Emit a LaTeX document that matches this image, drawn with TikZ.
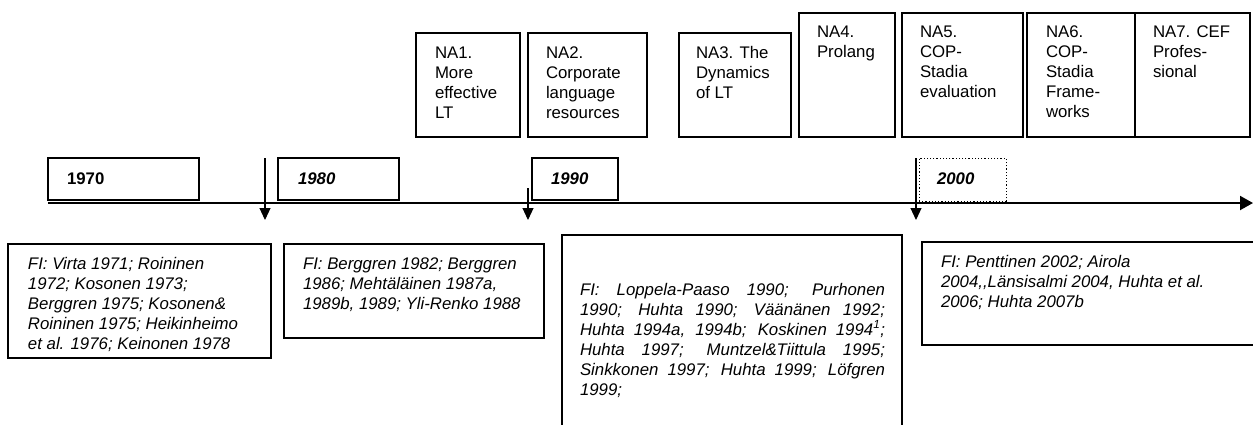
\documentclass[tikz,border=0pt]{standalone}
\usepackage{fontspec}
\setmainfont{Liberation Sans}
\usetikzlibrary{arrows.meta}

% Fixed-size box body: width, height, text inset, first baseline, text
\newcommand{\panelbody}[5]{%
  \vbox to #2pt{\kern\dimexpr#4pt-14pt\relax
    \hbox to #1pt{\kern#3pt\vtop{\hsize=\dimexpr#1pt-#3pt\relax
      \parindent=0pt \parskip=0pt \baselineskip=20pt \raggedright
      \hyphenpenalty=10000
      \rule{0pt}{14pt}#5}\hss}\vss}}

\tikzset{
  frame/.style={draw, line width=1.2pt, inner sep=0pt, outer sep=0pt, anchor=north west},
  dotframe/.style={frame, dotted, line width=1pt},
  pointer/.style={line width=1.1pt, -{Triangle[width=11pt,length=12pt]}},
  axis/.style={line width=2pt, -{Triangle[width=14pt,length=13pt]}},
}

\begin{document}
\begin{tikzpicture}[x=1pt, y=-1pt, font=\fontsize{16.8pt}{20pt}\selectfont]
\useasboundingbox (0,0) rectangle (1253,424);

% research projects
\node[frame] (na1) at (416,33) {\panelbody{104}{104}{19}{25}{NA1.\\More\\effective\\LT}};
\node[frame] (na2) at (528,33) {\panelbody{119}{104}{18}{25}{NA2.\\Corporate\\language\\resources}};
\node[frame] (na3) at (679,33) {\panelbody{112}{104}{17}{25}{NA3. The\\Dynamics\\of LT}};
\node[frame] (na4) at (799,13) {\panelbody{96}{124}{18}{24}{NA4.\\Prolang}};
\node[frame] (na5) at (902,13) {\panelbody{121}{124}{18}{24}{NA5.\\COP-\\Stadia\\evaluation}};
\node[frame] (na6) at (1027,13) {\panelbody{108}{124}{19}{24}{NA6.\\COP-\\Stadia\\Frame-\\works}};
\node[frame] (na7) at (1135,13) {\panelbody{115}{124}{18}{24}{NA7. CEF\\Profes-\\sional}};

% decades
\node[frame] (y1970) at (48,158) {\panelbody{151}{42}{19}{26}{\bfseries 1970}};
\node[frame] (y1980) at (278,158) {\panelbody{121}{42}{20}{26}{\bfseries\itshape 1980}};
\node[frame] (y1990) at (532,158) {\panelbody{86}{42}{19}{26}{\bfseries\itshape 1990}};
\node[dotframe] (y2000) at (919,158) {\panelbody{87}{43}{18}{26}{\bfseries\itshape 2000}};

% time axis
\coordinate (t0) at (48,203);
\coordinate (t1) at (1253,203);
\draw[axis] (t0) -- (t1);

% decade markers
\coordinate (p1a) at (265,158); \coordinate (p1b) at (265,220);
\coordinate (p2a) at (528,188); \coordinate (p2b) at (528,220);
\coordinate (p3a) at (916,158); \coordinate (p3b) at (916,220);
\draw[pointer] (p1a) -- (p1b);
\draw[pointer] (p2a) -- (p2b);
\draw[pointer] (p3a) -- (p3b);

% publications per decade
\node[frame] (r70) at (8,244) {\panelbody{263}{114}{20}{25}{\itshape
  FI: Virta 1971; Roininen\\1972; Kosonen 1973;\\Berggren 1975; Kosonen\&\\Roininen 1975; Heikinheimo\\et al. 1976; Keinonen 1978}};
\node[frame] (r80) at (284,244) {\panelbody{260}{94}{19}{25}{\itshape
  FI: Berggren 1982; Berggren\\1986; Mehtäläinen 1987a,\\1989b, 1989; Yli-Renko 1988}};
\node[frame] (r90) at (562,235) {\panelbody{340}{200}{18}{60}{\itshape
  \makebox[305pt][s]{FI: Loppela-Paaso 1990; Purhonen}\\
  \makebox[305pt][s]{1990; Huhta 1990; Väänänen 1992;}\\
  \makebox[305pt][s]{Huhta 1994a, 1994b; Koskinen 1994\textsuperscript{1};}\\
  \makebox[305pt][s]{Huhta 1997; Muntzel\&Tiittula 1995;}\\
  \makebox[305pt][s]{Sinkkonen 1997; Huhta 1999; Löfgren}\\
  1999;}};
\node[frame] (r00) at (922,242) {\panelbody{345}{103}{19}{25}{\itshape
  FI: Penttinen 2002; Airola\\2004,{},Länsisalmi 2004, Huhta et al.\\2006; Huhta 2007b}};
\end{tikzpicture}
\end{document}
